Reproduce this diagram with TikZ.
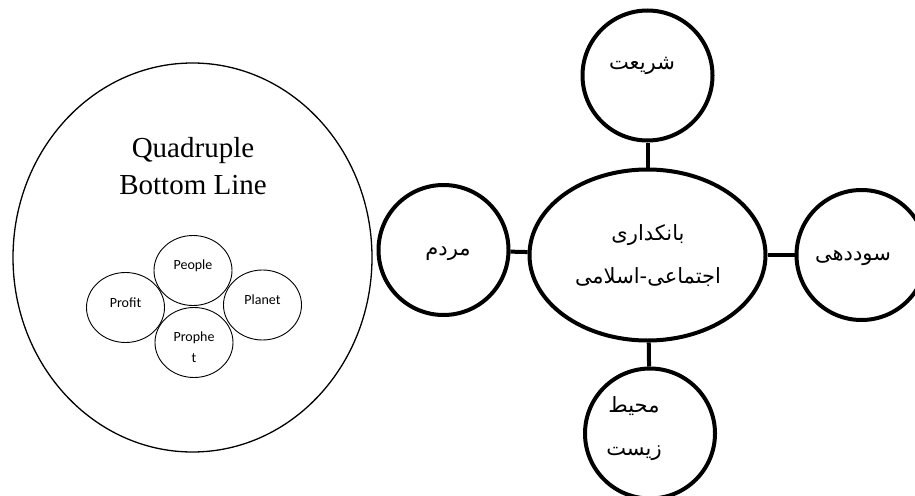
\documentclass[tikz,border=0pt]{standalone}
\usepackage{fontspec}
\setmainfont{Liberation Serif}
\newfontfamily\arabicfont[Script=Arabic]{DejaVu Sans}
\newfontfamily\labelfont{Carlito}
\TeXXeTstate=1
\usetikzlibrary{positioning,shapes.geometric}

\begin{document}
\begin{tikzpicture}[x=1pt,y=-1pt]
\tikzstyle{outer}=[ellipse,draw,line width=1.3pt,minimum width=359pt,minimum height=389pt,inner sep=0pt]
\tikzstyle{petal}=[ellipse,draw,line width=0.9pt,minimum width=78pt,minimum height=70pt,inner sep=0pt]
\tikzstyle{hub}=[ellipse,draw,line width=4pt,minimum width=236pt,minimum height=171pt,inner sep=0pt]
\tikzstyle{spoke}=[circle,draw,line width=4pt,minimum size=130pt,inner sep=0pt]
\tikzstyle{conn}=[line width=4pt]
\tikzstyle{en}=[font=\labelfont\fontsize{14}{21}\selectfont,align=center,inner sep=0pt]
\tikzstyle{fa}=[font=\arabicfont\fontsize{21}{43}\selectfont,align=center,inner sep=0pt]
\useasboundingbox (0,0) rectangle (915,495);
\clip (0,0) rectangle (915,495);
% left: quadruple bottom line
\node[outer] (qbl) at (192.5,257.5) {};
\node[align=center,inner sep=0pt,font=\fontsize{29}{37}\selectfont] (qtitle) at (193,166) {Quadruple\\Bottom Line};
\node[petal] (people) at (193,270.5) {};
\node[petal] (profit) at (125.5,307.5) {};
\node[petal] (planet) at (262.5,305) {};
\node[petal] (prophet) at (194,342.5) {};
\node[en] (tpeople) at ([yshift=5pt]people) {People};
\node[en] (tprofit) at ([yshift=5pt]profit) {Profit};
\node[en] (tplanet) at ([yshift=5pt]planet) {Planet};
\node[en] (tprophet) at ([yshift=-5pt]prophet) {Prophe\\t};
% right: social-islamic banking
\node[hub] (hub) at (647.5,255) {};
\node[spoke,above=25pt of hub] (sharia) {};
\node[spoke,left=17pt of hub,yshift=5pt] (people2) {};
\node[spoke,right=27pt of hub] (profit2) {};
\node[spoke,below=24pt of hub,xshift=2.5pt] (planet2) {};
\draw[conn] (hub) -- (sharia);
\draw[conn] (people2) -- (hub);
\draw[conn] (hub) -- (profit2);
\draw[conn] (hub) -- (planet2);
\node[fa] (thub) at (648,256) {\beginR بانکداری\endR\\\beginR اجتماعی-اسلامی\endR};
\node[fa] (tsharia) at (642,66) {\beginR شریعت\endR};
\node[fa] (tpeople2) at (448,254) {\beginR مردم\endR};
\node[fa] (tprofit2) at (853,258) {\beginR سوددهی\endR};
\node[fa] (tplanet2) at (634,429) {\beginR محیط\endR\\\beginR زیست\endR};
\end{tikzpicture}
\end{document}
